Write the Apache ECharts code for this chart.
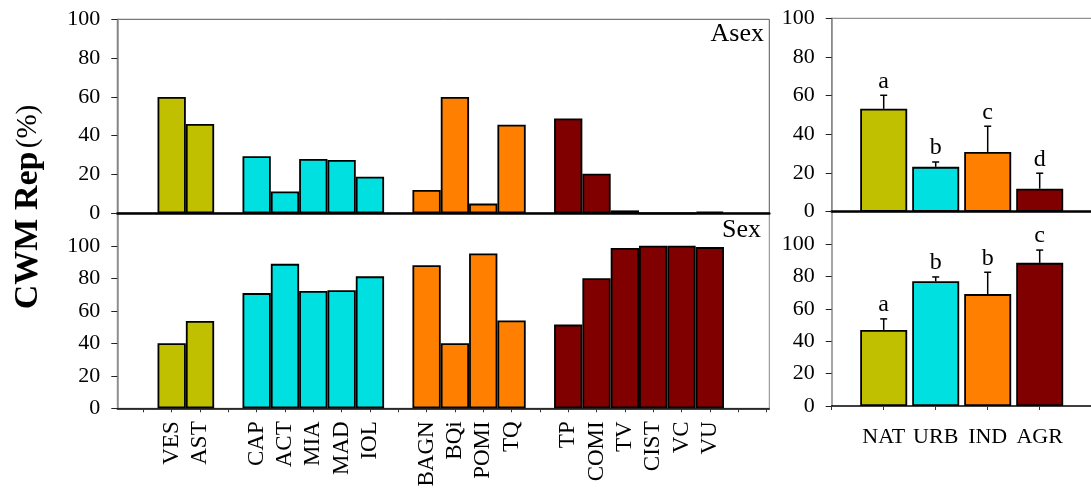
<!DOCTYPE html>
<html><head><meta charset="utf-8">
<script src="https://cdn.jsdelivr.net/npm/echarts@6/dist/echarts.min.js"></script>
<style>html,body{margin:0;padding:0;background:#fff}#c{width:1091px;height:490px}</style>
</head><body><div id="c"></div>
<script>
// ---- data ----
const speciesLabels = ['VES','AST','CAP','ACT','MIA','MAD','IOL','BAGN','BQi','POMI','TQ','TP','COMI','TV','CIST','VC','VU'];
const speciesGroup  = ['NAT','NAT','URB','URB','URB','URB','URB','IND','IND','IND','IND','AGR','AGR','AGR','AGR','AGR','AGR'];
const asexValues = [60, 46, 29.4, 11.3, 28, 27.5, 18.9, 12, 60, 5, 45.7, 48.9, 20.4, 1.5, 0, 0, 0.8];
const sexValues  = [40, 53.8, 70.9, 88.9, 72.2, 72.6, 81.2, 88, 40, 95.3, 54, 51.5, 80, 98.6, 100, 100, 99.2];

const habitats = ['NAT','URB','IND','AGR'];
const asexMean = [53.2, 23.2, 30.9, 11.9];
const asexErr  = [7.0, 2.5, 13.3, 8.0];
const asexLetters = ['a','b','c','d'];
const sexMean = [47.0, 77.0, 69.1, 88.4];
const sexErr  = [6.8, 2.7, 13.5, 7.9];
const sexLetters = ['a','b','b','c'];

// ---- style ----
const groupColor = {NAT:'#C0C000', URB:'#00E0E0', IND:'#FF8000', AGR:'#800000'};
const FONT = 'Liberation Serif';

// slot positions: one empty slot before first, one gap between groups
const slotOf = [];
let s = 0, prev = null;
speciesGroup.forEach((g) => { s += (prev !== null && g !== prev) ? 2 : 1; slotOf.push(s); prev = g; });
const slotLabel = {};
slotOf.forEach((p, i) => slotLabel[p] = speciesLabels[i]);
const lastSlot = slotOf[slotOf.length - 1] + 2;
const allTicks = []; for (let i = 0; i <= lastSlot; i++) allTicks.push(i);

const bar = (vals, xi, yi) => ({
  type: 'bar', xAxisIndex: xi, yAxisIndex: yi, barWidth: 28.3,
  data: vals.map((v, i) => ({value: [slotOf[i], v], itemStyle: {color: groupColor[speciesGroup[i]], borderColor: '#000', borderWidth: 1.8}})),
  animation: false
});
const hbar = (vals, xi, yi) => ({
  type: 'bar', xAxisIndex: xi, yAxisIndex: yi, barWidth: 47,
  data: vals.map((v, i) => ({value: [i, v], itemStyle: {color: groupColor[habitats[i]], borderColor: '#000', borderWidth: 1.8}})),
  animation: false, z: 2
});
const errs = (mean, err, letters, xi, yi) => ({
  type: 'custom', xAxisIndex: xi, yAxisIndex: yi, z: 5, animation: false,
  data: mean.map((m, i) => [i, m, err[i]]),
  renderItem: (params, api) => {
    const x = api.value(0), m = api.value(1), e = api.value(2);
    const p0 = api.coord([x, m]), p1 = api.coord([x, m + e]);
    return {type: 'group', children: [
      {type: 'line', shape: {x1: p0[0], y1: p0[1], x2: p1[0], y2: p1[1]}, style: {stroke: '#000', lineWidth: 1.5}},
      {type: 'line', shape: {x1: p1[0] - 3.5, y1: p1[1], x2: p1[0] + 3.5, y2: p1[1]}, style: {stroke: '#000', lineWidth: 1.5}},
      {type: 'text', x: p1[0], y: p1[1] - 14, style: {text: letters[params.dataIndex], fontFamily: FONT, fontSize: 24, fill: '#000', align: 'center', verticalAlign: 'middle'}}
    ]};
  }
});

const yAxisBase = (gi, max) => ({
  type: 'value', gridIndex: gi, min: 0, max: max, interval: 20,
  axisLine: {show: true, onZero: false, lineStyle: {color: '#888', width: 1.5}},
  axisTick: {show: true, inside: false, length: 6, lineStyle: {color: '#222', width: 1}},
  axisLabel: {margin: 17, fontFamily: FONT, fontSize: 22, color: '#000', formatter: v => (v > 100 ? '' : v)},
  splitLine: {show: false}
});

const chart = echarts.init(document.getElementById('c'), null, {renderer: 'canvas'});
chart.setOption({
  animation: false,
  backgroundColor: '#fff',
  grid: [
    {left: 117.3, top: 19.3, width: 652, height: 194, show: true, borderColor: '#555', borderWidth: 1, containLabel: false, outerBoundsMode: 'none'},
    {left: 117.3, top: 213.3, width: 652, height: 195, show: true, borderColor: '#888', borderWidth: 1, containLabel: false, outerBoundsMode: 'none'},
    {left: 831.7, top: 18.3, width: 260, height: 193.4, show: true, borderColor: '#777', borderWidth: 1, containLabel: false, outerBoundsMode: 'none'},
    {left: 831.7, top: 211.7, width: 260, height: 194.3, containLabel: false, outerBoundsMode: 'none'}
  ],
  xAxis: [
    {type: 'value', gridIndex: 0, min: -0.92, max: lastSlot + 0.1, axisLine: {show: true, onZero: false, lineStyle: {color: '#000', width: 2.5}}, axisTick: {show: false}, axisLabel: {show: false}, splitLine: {show: false}},
    {type: 'value', gridIndex: 1, min: -0.92, max: lastSlot + 0.1,
      axisLine: {show: true, onZero: false, lineStyle: {color: '#000', width: 1.5}},
      axisTick: {show: true, length: 4, customValues: allTicks, lineStyle: {color: '#333'}},
      axisLabel: {show: true, customValues: slotOf, rotate: 90, margin: 13, fontFamily: FONT, fontSize: 23, color: '#000', formatter: v => slotLabel[v] || ''},
      splitLine: {show: false}},
    {type: 'value', gridIndex: 2, min: -1, max: 4, axisLine: {show: true, onZero: false, lineStyle: {color: '#000', width: 2.5}}, axisTick: {show: false}, axisLabel: {show: false}, splitLine: {show: false}},
    {type: 'value', gridIndex: 3, min: -1, max: 4,
      axisLine: {show: true, onZero: false, lineStyle: {color: '#000', width: 1.5}},
      axisTick: {show: true, length: 4, customValues: [-1, 0, 1, 2, 3, 4], lineStyle: {color: '#333'}},
      axisLabel: {show: true, customValues: [0, 1, 2, 3], margin: 20, fontFamily: FONT, fontSize: 22, color: '#000', formatter: v => habitats[v] || ''},
      splitLine: {show: false}}
  ],
  yAxis: [yAxisBase(0, 100), yAxisBase(1, 120), yAxisBase(2, 100), yAxisBase(3, 120)],
  series: [
    bar(asexValues, 0, 0),
    bar(sexValues, 1, 1),
    hbar(asexMean, 2, 2),
    errs(asexMean, asexErr, asexLetters, 2, 2),
    hbar(sexMean, 3, 3),
    errs(sexMean, sexErr, sexLetters, 3, 3)
  ],
  graphic: [
    {type: 'text', x: 28, y: 207, rotation: Math.PI / 2, z: 10,
      style: {text: '{b|CWM Rep} {n|(%)}', align: 'center', verticalAlign: 'middle',
        rich: {b: {fontFamily: FONT, fontWeight: 'bold', fontSize: 34, fill: '#000'}, n: {fontFamily: FONT, fontSize: 29, fill: '#000'}}}},
    {type: 'text', x: 764, y: 34, z: 10, style: {text: 'Asex', fontFamily: FONT, fontSize: 26, fill: '#000', align: 'right', verticalAlign: 'middle'}},
    {type: 'text', x: 761, y: 230, z: 10, style: {text: 'Sex', fontFamily: FONT, fontSize: 26, fill: '#000', align: 'right', verticalAlign: 'middle'}}
  ]
});
</script>
</body></html>
